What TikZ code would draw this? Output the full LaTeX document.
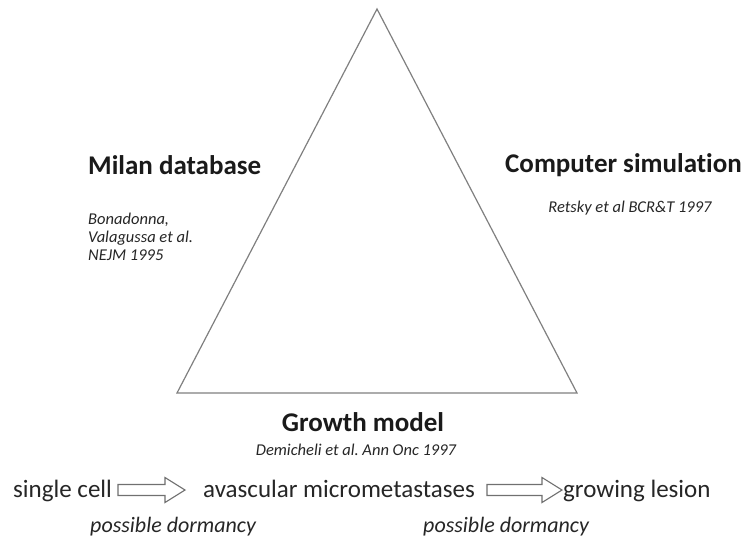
\documentclass[tikz,border=0pt]{standalone}
\usepackage{fontspec}
\setmainfont{Carlito}[Ligatures=NoCommon]
\frenchspacing
\definecolor{txt}{HTML}{262626}
\definecolor{ttl}{HTML}{1A1A1A}
\definecolor{lin}{HTML}{808080}
\definecolor{arr}{HTML}{707070}
\tikzset{
  title/.style={font=\bfseries\fontsize{27}{32}\selectfont, text=ttl, inner sep=0pt},
  ref/.style={font=\itshape\fontsize{16.5}{18}\selectfont, text=txt, inner sep=0pt, align=left},
  stage/.style={font=\fontsize{25}{30}\selectfont, text=txt, inner sep=0pt},
  dorm/.style={font=\itshape\fontsize{22}{26}\selectfont, text=txt, inner sep=0pt},
  triline/.style={draw=lin, line width=1.2pt, line join=miter},
  arrowline/.style={draw=arr, line width=1.1pt, fill=white, line join=miter},
  pics/harrow/.style={code={\draw[arrowline] (0,-5.5) -- (#1-20,-5.5) -- (#1-20,-12.5) -- (#1,0) -- (#1-20,12.5) -- (#1-20,5.5) -- (0,5.5) -- cycle;}}
}
\begin{document}
\begin{tikzpicture}[x=1pt,y=-1pt]
\useasboundingbox[fill=white] (0,0) rectangle (750,542);
% triangle
\coordinate (apex) at (377,9);
\coordinate (bl) at (177,393);
\coordinate (br) at (577,393);
\draw[triline] (apex) -- (bl) -- (br) -- cycle;
% corner labels
\node[title, anchor=west] (milan) at (88,165) {Milan database};
\node[ref, anchor=north west] (bona) at (88,213) {Bonadonna,\\Valagussa et al.\\NEJM 1995};
\node[title, anchor=west] (comp) at (505,165) {Computer simulation};
\node[ref] (retsky) at (630,208) {Retsky et al BCR\&T 1997};
\node[title] (growth) at (363,422) {Growth model};
\node[ref] (demi) at (356,450) {Demicheli et al. Ann Onc 1997};
% stages
\node[stage, anchor=base west] (single) at (13,497) {single cell};
\node[stage, anchor=base west] (avasc) at (203,497) {avascular micrometastases};
\node[stage, anchor=base west] (grow) at (563,497) {growing lesion};
\coordinate (a1) at (118,490);
\coordinate (a2) at (487,490);
\pic at (a1) {harrow=67};
\pic at (a2) {harrow=75};
\node[dorm, anchor=base west] (d1) at (90,532) {possible dormancy};
\node[dorm, anchor=base west] (d2) at (423,532) {possible dormancy};
\end{tikzpicture}
\end{document}
